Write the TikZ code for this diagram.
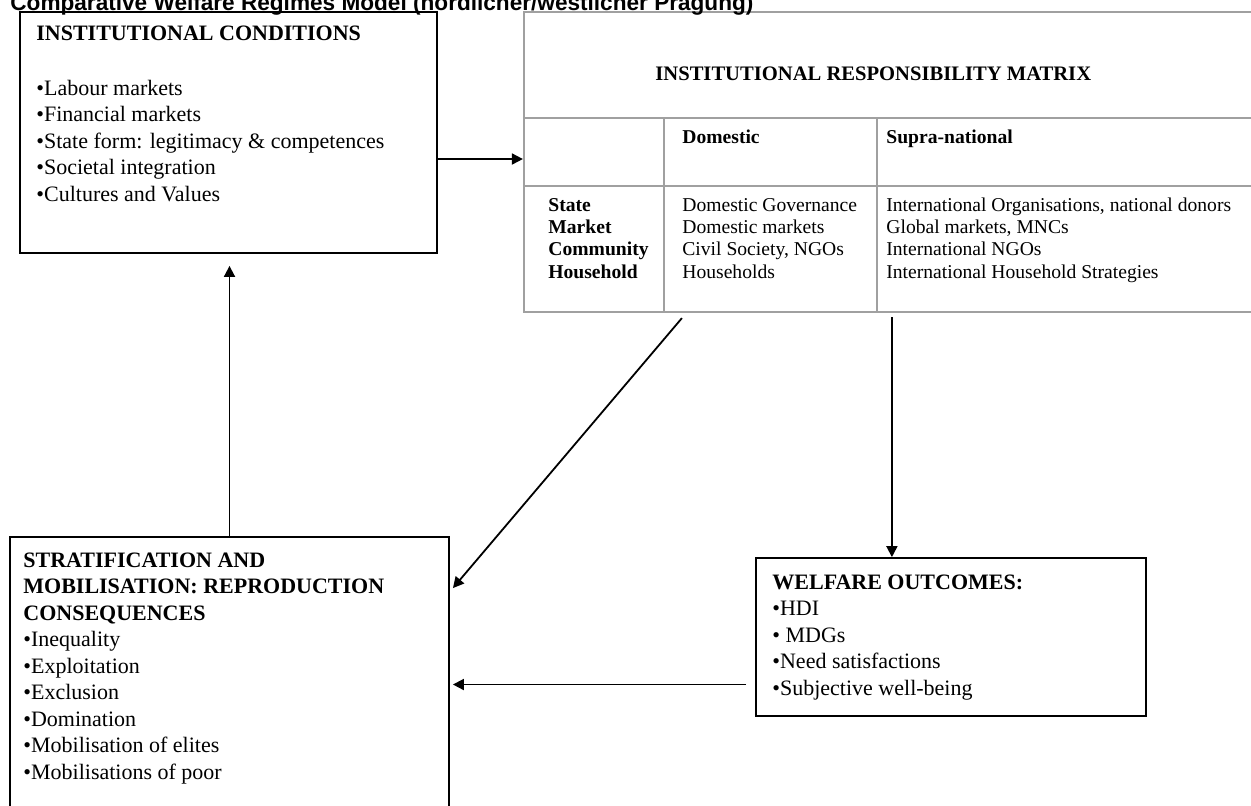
\documentclass[tikz,border=0pt]{standalone}
\usepackage{fontspec}
\setmainfont{Liberation Serif}
\newfontfamily\titlefont{Liberation Sans}
\usetikzlibrary{arrows.meta,calc}
\definecolor{matgray}{RGB}{160,160,160}
\tikzset{
  boxtext/.style={font=\fontsize{11}{13.25}\selectfont},
  mattext/.style={font=\fontsize{9.8}{11.15}\selectfont},
  mathead/.style={font=\bfseries\fontsize{9.8}{11.15}\selectfont},
  conn/.style={draw, line width=0.9pt, -{Triangle[length=5.5pt,width=5.5pt]}}
}
\begin{document}
\begin{tikzpicture}[x=0.5pt,y=-0.5pt]
        \useasboundingbox (0,0) rectangle (1251,805);

        \begin{scope}[every node/.style={draw, line width=0.9pt, inner sep=0pt}]
          \node[minimum width=208.5pt, minimum height=120.5pt] (cond)  at (228.5,132.5) {};
          \node[minimum width=219.5pt, minimum height=150pt]   (strat) at (229.5,687)   {};
          \node[minimum width=195pt,   minimum height=79pt]    (welf)  at (951,637)     {};
          \node[draw=matgray, line width=1.1pt, minimum width=375.5pt, minimum height=150pt] (resp) at (899.5,162) {};
        \end{scope}

        % title, cut by the top edge
        \node[anchor=base west, inner sep=0pt, font=\titlefont\bfseries\fontsize{11.3}{13}\selectfont] (title) at (10,10)
          {Comparative Welfare Regimes Model (nördlicher/westlicher Prägung)};

        % rules of the matrix
        \begin{scope}[matgray, line width=1.1pt]
          \draw (resp.west |- 0,118) -- (resp.east |- 0,118);
          \draw (resp.west |- 0,186) -- (resp.east |- 0,186);
          \draw (664,118) -- (664,118 |- resp.south);
          \draw (877,118) -- (877,118 |- resp.south);
        \end{scope}

        % multi-line texts sit on the baseline of their last line
        \begin{scope}[every node/.style={align=left, inner sep=0pt, anchor=base west}]
          \node[boxtext] (condtext) at (36,201)
            {\textbf{INSTITUTIONAL CONDITIONS}\\[14.25pt]
             •Labour markets\\•Financial markets\\•State form: legitimacy \& competences\\
             •Societal integration\\•Cultures and Values};
          \node[boxtext] (strattext) at (23,779)
            {\textbf{STRATIFICATION AND}\\\textbf{MOBILISATION: REPRODUCTION}\\\textbf{CONSEQUENCES}\\
             •Inequality\\•Exploitation\\•Exclusion\\•Domination\\•Mobilisation of elites\\•Mobilisations of poor};
          \node[boxtext] (welftext) at (772,695)
            {\textbf{WELFARE OUTCOMES:}\\•HDI\\• MDGs\\•Need satisfactions\\•Subjective well-being};

          \node[mathead, font=\bfseries\fontsize{10.3}{11.15}\selectfont] (resphead) at (655,80) {INSTITUTIONAL RESPONSIBILITY MATRIX};
          \node[mathead] (domhead)  at (682,143) {Domestic};
          \node[mathead] (suphead)  at (886,143) {Supra-national};
          \node[mathead] (sectors)  at (548,278)
            {State\\Market\\Community\\Household};
          \node[mattext] (domcol) at (682,278)
            {Domestic Governance\\Domestic markets\\Civil Society, NGOs\\Households};
          \node[mattext] (supcol) at (886,278)
            {International Organisations, national donors\\Global markets, MNCs\\International NGOs\\International Household Strategies};
        \end{scope}

        \coordinate (condout)   at ([yshift=-13.25pt]cond.east);
        \coordinate (welfout)   at ([xshift=-4.5pt,yshift=-23.75pt]welf.west);
        \coordinate (diagstart) at ($(resp.south west)+(159,5)$);
        \coordinate (diagend)   at ($(strat.north east)+(3,52)$);
        \coordinate (downstart) at ($(resp.south west)+(369,4)$);

        \begin{scope}[every edge/.style={conn}]
          \path (condout)     edge (condout -| resp.west);
          \path (strat.north) edge[shorten >=6pt] (strat.north |- cond.south);
          \path (diagstart)   edge (diagend);
          \path (downstart)   edge (downstart |- welf.north);
          \path (welfout)     edge[shorten >=1.5pt] (welfout -| strat.east);
        \end{scope}

      \end{tikzpicture}
\end{document}
